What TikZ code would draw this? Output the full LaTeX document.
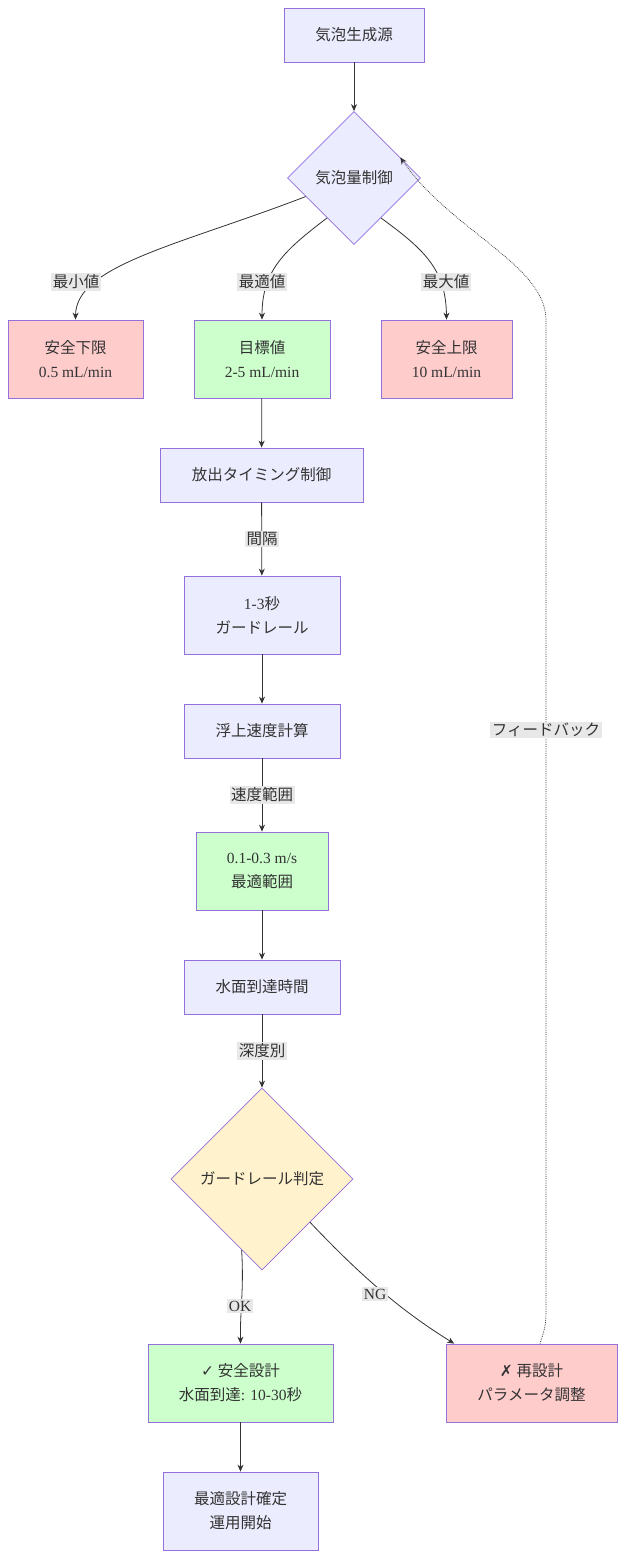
\documentclass[tikz,border=0pt]{standalone}
\usepackage{fontspec}
\setmainfont{Liberation Serif}
\newfontfamily\cjk{Noto Sans CJK JP}
\newfontfamily\sym{DejaVu Sans}
\usetikzlibrary{shapes.geometric,arrows.meta}
\definecolor{nfill}{HTML}{ECECFF}
\definecolor{nstroke}{HTML}{9370DB}
\definecolor{pinkf}{HTML}{FFCCCC}
\definecolor{greenf}{HTML}{CCFFCC}
\definecolor{yellowf}{HTML}{FFF2CC}
\definecolor{lblbg}{HTML}{E8E8E8}
\definecolor{txt}{HTML}{333333}
\begin{document}
\begin{tikzpicture}[x=1pt,y=-1pt,
  every node/.style={font=\fontsize{15.5}{24}\selectfont, text=txt, align=center},
  box/.style={draw=nstroke, fill=nfill, line width=0.8pt, minimum width=#1, minimum height=54pt, inner sep=0pt},
  tall/.style={box=#1, minimum height=78pt},
  dia/.style={diamond, draw=nstroke, fill=nfill, line width=0.8pt, inner sep=0pt, minimum width=#1, minimum height=#1},
  lbl/.style={fill=lblbg, inner sep=1.5pt, font=\fontsize{15.5}{17}\selectfont},
  edge/.style={draw=txt, line width=0.8pt, -{Stealth[length=7pt,width=6pt]}}]
\useasboundingbox (0,0) rectangle (625,1558);
\fill[white] (0,0) rectangle (625,1558);
\node[box=140pt] (A) at (354,35) {\cjk 気泡生成源};
\node[dia=133pt] (B) at (354,178) {\cjk 気泡量制御};
\node[tall=135pt, fill=pinkf] (C) at (75.5,359) {{\cjk 安全下限}\\0.5 mL/min};
\node[tall=136pt, fill=greenf] (D) at (262,359) {{\cjk 目標値}\\2-5 mL/min};
\node[tall=131pt, fill=pinkf] (E) at (446.5,359) {{\cjk 安全上限}\\10 mL/min};
\node[box=203pt] (F) at (261.5,475) {\cjk 放出タイミング制御};
\node[tall=156pt] (G) at (262,615) {1-3{\cjk 秒}\\{\cjk ガードレール}};
\node[box=156pt] (H) at (262,731) {\cjk 浮上速度計算};
\node[tall=132pt, fill=greenf] (I) at (262,871) {0.1-0.3 m/s\\{\cjk 最適範囲}};
\node[box=156pt] (J) at (262,987) {\cjk 水面到達時間};
\node[dia=182pt, fill=yellowf] (K) at (262,1179) {\cjk ガードレール判定};
\node[tall=185pt, fill=greenf] (L) at (240.5,1383) {{\sym ✓} {\cjk 安全設計}\\{\cjk 水面到達}: 10-30{\cjk 秒}};
\node[tall=171pt, fill=pinkf] (M) at (531.5,1383) {{\sym ✗} {\cjk 再設計}\\{\cjk パラメータ調整}};
\node[tall=155pt] (N) at (240.5,1511) {{\cjk 最適設計確定}\\{\cjk 運用開始}};
\coordinate (fb1) at (546,1300);
\coordinate (fb2) at (546,320);

\draw[edge] (A) -- (B);
\draw[edge] (B.201) .. controls (180,245) and (76,265) .. (C.north);
\draw[edge] (B.236) .. controls (285,250) and (262,270) .. (D.north);
\draw[edge] (B.304) .. controls (425,250) and (446,270) .. (E.north);
\draw[edge] (D) -- (F);
\draw[edge] (F) -- (G);
\draw[edge] (G) -- (H);
\draw[edge] (H) -- (I);
\draw[edge] (I) -- (J);
\draw[edge] (J) -- (K);
\draw[edge] (K.254) .. controls (244,1290) and (240,1310) .. (L.north);
\draw[edge] (K.318) .. controls (360,1275) and (400,1310) .. (M.153);
\draw[edge] (L) -- (N);
\draw[edge, densely dotted, line width=0.7pt] (M.north -| 540,0) .. controls (546,1325) .. (fb1) -- (fb2) .. controls (546,265) and (450,230) .. (B.24);

\node[lbl] at (76,282) {\cjk 最小値};
\node[lbl] at (262,282) {\cjk 最適値};
\node[lbl] at (446,282) {\cjk 最大値};
\node[lbl] at (262,539) {\cjk 間隔};
\node[lbl] at (262,795) {\cjk 速度範囲};
\node[lbl] at (262,1051) {\cjk 深度別};
\node[lbl] at (240,1306) {OK};
\node[lbl] at (375,1294) {NG};
\node[lbl] at (546,730) {\cjk フィードバック};
\end{tikzpicture}
\end{document}
